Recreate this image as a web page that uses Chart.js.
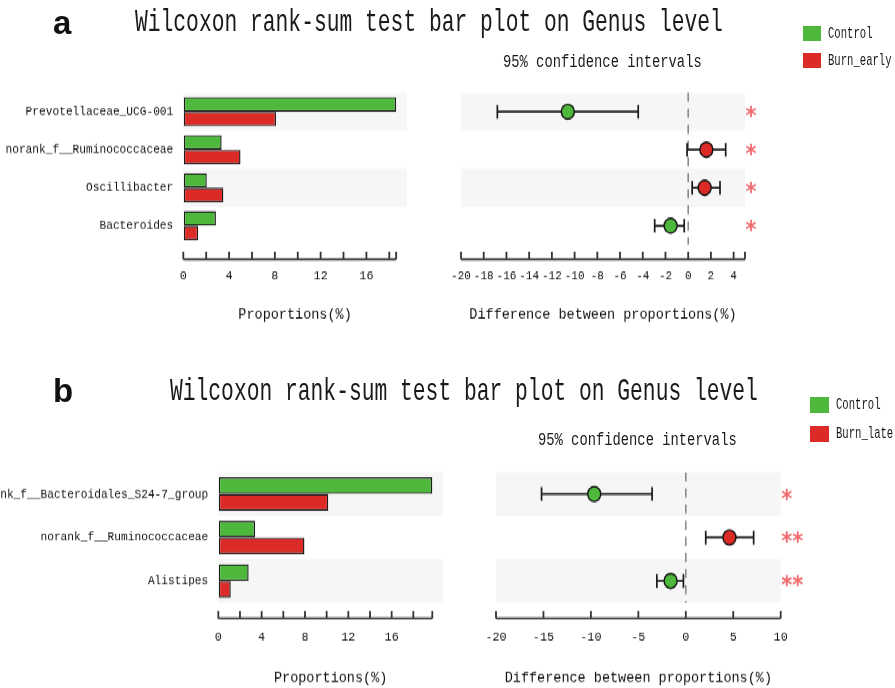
<!DOCTYPE html>
<html>
<head>
<meta charset="utf-8">
<script src="https://cdn.jsdelivr.net/npm/chart.js@4.4.0/dist/chart.umd.min.js"></script>
<style>
  body { margin: 0; background: #fff; }
  #page { position: relative; width: 895px; height: 688px; overflow: hidden; background: #fff; }
  #stage { position: absolute; left: 0; top: 0; width: 895px; height: 598px; transform: scaleY(1.15); transform-origin: 0 0; }
  .box { position: absolute; }
  .txt { position: absolute; white-space: nowrap; font-family: "Liberation Mono", monospace; color: #1a1a1a; line-height: 1; }
  .letter { position: absolute; font-family: "Liberation Sans", Arial, sans-serif; font-weight: bold; font-size: 33px; line-height: 1; color: #111; transform: translateY(-50%); }
  .sq { position: absolute; }
</style>
</head>
<body>
<div id="page">
  <div id="stage">
    <div class="box" style="left:0;top:70px;"><canvas id="barA" width="420" height="217"></canvas></div>
    <div class="box" style="left:430px;top:70px;"><canvas id="ciA" width="340" height="217"></canvas></div>
    <div class="box" style="left:0;top:400px;"><canvas id="barB" width="455" height="198"></canvas></div>
    <div class="box" style="left:465px;top:400px;"><canvas id="ciB" width="340" height="198"></canvas></div>
  </div>

  <div class="letter" style="left:53px;top:22px;">a</div>
  <div class="txt" style="left:135px;top:23px;font-size:21.3px;transform:translateY(-50%) scaleY(1.45);">Wilcoxon rank-sum test bar plot on Genus level</div>
  <div class="txt" style="left:503px;top:63px;font-size:13.8px;transform:translateY(-50%) scaleY(1.35);">95% confidence intervals</div>
  <div class="sq" style="left:803px;top:26px;width:18px;height:15px;background:#4db83b;"></div>
  <div class="sq" style="left:803px;top:53px;width:18px;height:15px;background:#dc2a27;"></div>
  <div class="txt" style="left:828px;top:34px;font-size:10.6px;transform:translateY(-50%) scaleY(1.5);">Control</div>
  <div class="txt" style="left:828px;top:61px;font-size:10.6px;transform:translateY(-50%) scaleY(1.5);">Burn_early</div>

  <div class="letter" style="left:53px;top:390px;">b</div>
  <div class="txt" style="left:170px;top:392px;font-size:21.3px;transform:translateY(-50%) scaleY(1.45);">Wilcoxon rank-sum test bar plot on Genus level</div>
  <div class="txt" style="left:538px;top:441px;font-size:13.8px;transform:translateY(-50%) scaleY(1.35);">95% confidence intervals</div>
  <div class="sq" style="left:810px;top:397px;width:19px;height:16px;background:#4db83b;"></div>
  <div class="sq" style="left:810px;top:426px;width:19px;height:16px;background:#dc2a27;"></div>
  <div class="txt" style="left:836px;top:405px;font-size:10.6px;transform:translateY(-50%) scaleY(1.5);">Control</div>
  <div class="txt" style="left:836px;top:434px;font-size:10.6px;transform:translateY(-50%) scaleY(1.5);">Burn_late</div>
</div>

<script>
// panel a : Control vs Burn_early
const genusA = ['Prevotellaceae_UCG-001', 'norank_f__Ruminococcaceae', 'Oscillibacter', 'Bacteroides'];
const controlA = [18.6, 3.35, 2.05, 2.85];
const burnEarlyA = [8.1, 5.0, 3.5, 1.3];
const diffA = [-10.6, 1.6, 1.45, -1.55];
const lowA = [-16.8, -0.1, 0.35, -2.95];
const highA = [-4.4, 3.3, 2.8, -0.35];
const sigA = ['*', '*', '*', '*'];

// panel b : Control vs Burn_late
const genusB = ['norank_f__Bacteroidales_S24-7_group', 'norank_f__Ruminococcaceae', 'Alistipes'];
const controlB = [19.75, 3.4, 2.8];
const burnLateB = [10.15, 7.95, 1.15];
const diffB = [-9.65, 4.6, -1.6];
const lowB = [-15.2, 2.1, -3.05];
const highB = [-3.55, 7.15, -0.25];
const sigB = ['*', '**', '**'];

// axis ticks
const propTicks = [0, 2, 4, 6, 8, 10, 12, 14, 16, 18];
const propLabels = [0, 4, 8, 12, 16];
const diffTicksA = [-20, -18, -16, -14, -12, -10, -8, -6, -4, -2, 0, 2, 4];
const diffTicksB = [-20, -15, -10, -5, 0, 5, 10];

const GREEN = '#4db83b';
const RED = '#dc2a27';
const BAND = '#f5f6f5';

Chart.defaults.font.family = '"Liberation Mono", monospace';
Chart.defaults.color = '#111';
Chart.defaults.animation = false;

// bands, axis line with inward ticks, zero line, error bars, stars
const deco = {
  id: 'deco',
  beforeDatasetsDraw(chart, args, o) {
    const { ctx, chartArea: a, scales: { x, y } } = chart;
    const half = Math.abs(y.getPixelForValue(1) - y.getPixelForValue(0)) / 2;
    ctx.save();
    ctx.fillStyle = BAND;
    for (let i = 0; i < o.rows; i += 2) {
      const c = y.getPixelForValue(i);
      ctx.fillRect(a.left, c - half, a.right - a.left, half * 2);
    }
    const ay = a.bottom + o.gap;
    ctx.strokeStyle = '#333';
    ctx.lineWidth = 1.8;
    ctx.beginPath();
    ctx.moveTo(x.getPixelForValue(x.min), ay);
    ctx.lineTo(x.getPixelForValue(o.end), ay);
    x.ticks.map(t => t.value).concat([o.end]).forEach(v => {
      const px = x.getPixelForValue(v);
      ctx.moveTo(px, ay);
      ctx.lineTo(px, ay - 6.5);
    });
    ctx.stroke();

    if (o.low) {
      const zx = x.getPixelForValue(0);
      ctx.strokeStyle = '#8a8a8a';
      ctx.lineWidth = 1.6;
      ctx.setLineDash([8, 6]);
      ctx.beginPath();
      ctx.moveTo(zx, a.top);
      ctx.lineTo(zx, a.bottom);
      ctx.stroke();
      ctx.setLineDash([]);

      ctx.strokeStyle = '#1a1a1a';
      ctx.lineWidth = 1.7;
      ctx.beginPath();
      o.low.forEach((lo, i) => {
        const cy = y.getPixelForValue(i);
        const x1 = x.getPixelForValue(lo), x2 = x.getPixelForValue(o.high[i]);
        ctx.moveTo(x1, cy); ctx.lineTo(x2, cy);
        ctx.moveTo(x1, cy - 6); ctx.lineTo(x1, cy + 6);
        ctx.moveTo(x2, cy - 6); ctx.lineTo(x2, cy + 6);
      });
      ctx.stroke();
    }
    ctx.restore();
  },
  afterDraw(chart, args, o) {
    if (!o.sig) return;
    const { ctx, chartArea: a, scales: { y } } = chart;
    ctx.save();
    ctx.fillStyle = '#f06a6e';
    ctx.font = 'bold 21px "DejaVu Sans", sans-serif';
    ctx.textAlign = 'left';
    ctx.textBaseline = 'alphabetic';
    o.sig.forEach((s, i) => {
      ctx.fillText(s, a.right + 0.5, y.getPixelForValue(i) + 11);
    });
    ctx.restore();
  }
};
Chart.register(deco);

function xAxis(min, max, ticks, labels, axisH, tl, title, titlePad, tickSize) {
  return {
    type: 'linear',
    min: min,
    max: max,
    afterBuildTicks: s => { s.ticks = ticks.map(v => ({ value: v })); },
    afterFit: s => { s.height = axisH; },
    grid: { display: true, drawOnChartArea: false, drawTicks: true, tickLength: tl, color: 'rgba(0,0,0,0)' },
    border: { display: false },
    ticks: {
      autoSkip: false, maxRotation: 0, minRotation: 0, padding: 3,
      font: { size: tickSize },
      callback: v => labels.includes(v) ? String(v) : ''
    },
    title: { display: true, text: title, font: { size: 13.5 }, padding: { top: 0, bottom: titlePad } }
  };
}

function barChart(id, cats, ctrl, burn, burnName, geo) {
  const end = Math.max(...ctrl, ...burn);
  return new Chart(document.getElementById(id), {
    type: 'bar',
    data: {
      labels: cats,
      datasets: [
        { label: 'Control', data: ctrl, backgroundColor: GREEN },
        { label: burnName, data: burn, backgroundColor: RED }
      ]
    },
    options: {
      responsive: false,
      indexAxis: 'y',
      layout: { padding: { top: geo.top, right: geo.right, left: 0, bottom: 0 } },
      datasets: { bar: { borderColor: '#1a1a1a', borderWidth: 1.4, borderSkipped: false, categoryPercentage: 0.77, barPercentage: 1 } },
      plugins: {
        legend: { display: false },
        tooltip: { enabled: false },
        deco: { rows: cats.length, gap: geo.gap, end: end }
      },
      scales: {
        x: xAxis(0, end * 1.05, propTicks.filter(v => v <= end), propLabels, geo.axisH, geo.tl, 'Proportions(%)', geo.titlePad, 11.8),
        y: {
          type: 'category',
          afterFit: s => { s.width = geo.left; s.paddingTop = 0; s.paddingBottom = 0; },
          grid: { display: false, drawTicks: false },
          border: { display: false },
          ticks: { padding: 10, font: { size: 11.2 } }
        }
      }
    }
  });
}

function ciChart(id, diff, low, high, sig, min, max, ticks, geo) {
  return new Chart(document.getElementById(id), {
    type: 'scatter',
    data: {
      datasets: [{
        data: diff.map((v, i) => ({ x: v, y: i })),
        pointRadius: 6.5,
        pointHoverRadius: 6.5,
        pointBackgroundColor: diff.map(v => v < 0 ? GREEN : RED),
        pointBorderColor: '#111',
        pointBorderWidth: 1.4
      }]
    },
    options: {
      responsive: false,
      layout: { padding: { top: geo.top, right: geo.right, left: geo.left, bottom: 0 } },
      plugins: {
        legend: { display: false },
        tooltip: { enabled: false },
        deco: { rows: diff.length, gap: geo.gap, end: max, low: low, high: high, sig: sig }
      },
      scales: {
        x: xAxis(min, max, ticks, ticks, geo.axisH, geo.tl, 'Difference between proportions(%)', geo.titlePad, geo.tickSize),
        y: { type: 'linear', min: -0.5, max: diff.length - 0.5, reverse: true, display: false }
      }
    }
  });
}

barChart('barA', genusA, controlA, burnEarlyA, 'Burn_early',
  { top: 10.6, right: 13.2, left: 183.3, axisH: 74.2, gap: 12.7, tl: 17.1, titlePad: 5.9 });
ciChart('ciA', diffA, lowA, highA, sigA, -20, 5, diffTicksA,
  { top: 10.6, right: 25, left: 31, axisH: 74.2, gap: 12.7, tl: 17.4, titlePad: 5.9, tickSize: 11 });
barChart('barB', genusB, controlB, burnLateB, 'Burn_late',
  { top: 10.7, right: 12, left: 218.3, axisH: 73.9, gap: 13.6, tl: 19.4, titlePad: 0.3 });
ciChart('ciB', diffB, lowB, highB, sigB, -20, 10, diffTicksB,
  { top: 10.7, right: 24.3, left: 31, axisH: 73.9, gap: 13.6, tl: 19.4, titlePad: 0.3, tickSize: 11.8 });
</script>
</body>
</html>
